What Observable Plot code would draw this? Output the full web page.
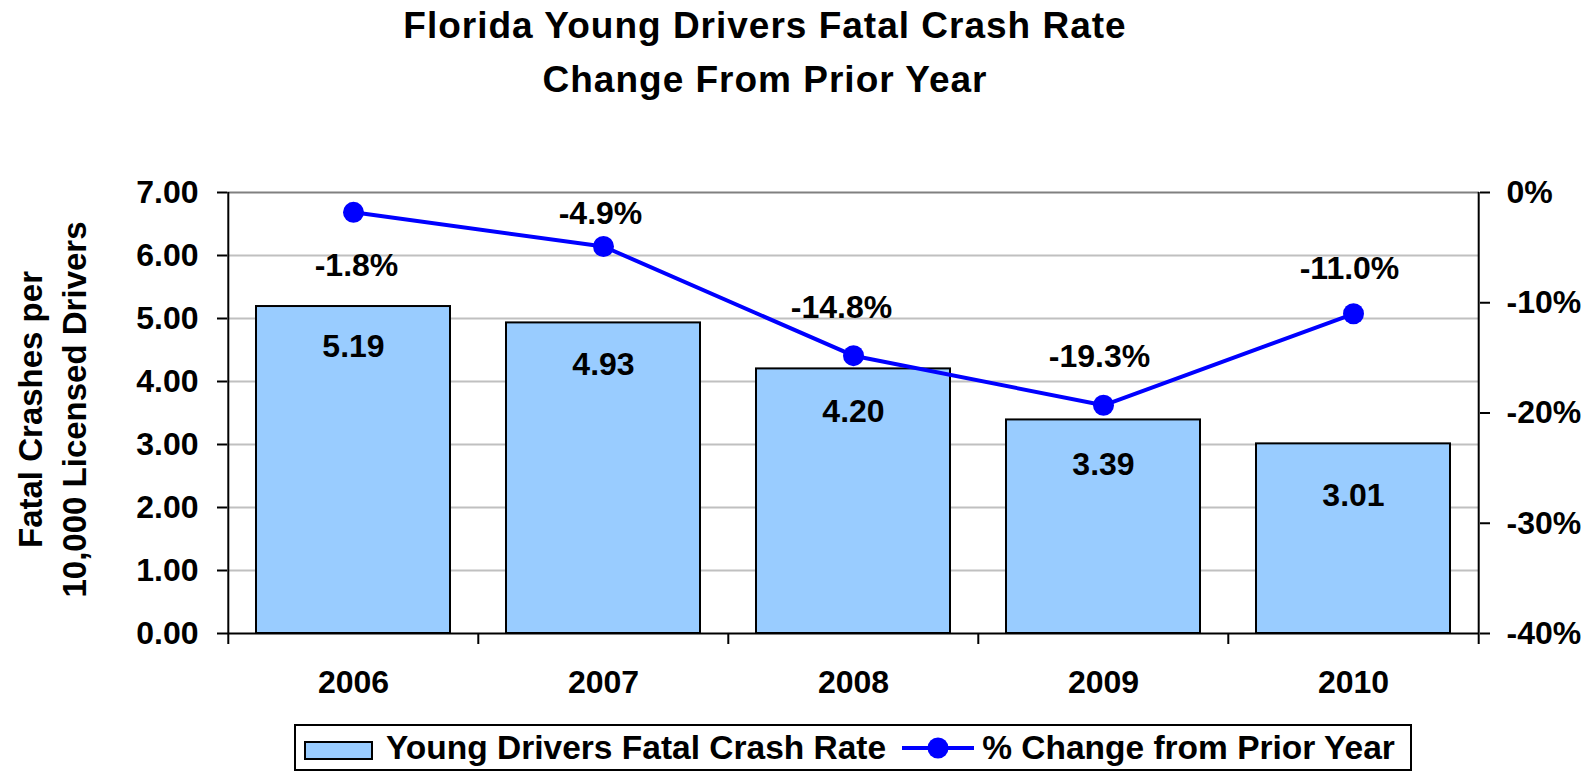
<!DOCTYPE html>
<html>
<head>
<meta charset="utf-8">
<script src="https://cdn.jsdelivr.net/npm/d3@7"></script>
<script src="https://cdn.jsdelivr.net/npm/@observablehq/plot@0.6"></script>
<style>
  html, body { margin: 0; padding: 0; background: #fff; }
  body { width: 1596px; height: 774px; overflow: hidden; font-family: "Liberation Sans", Arial, sans-serif; font-weight: bold; color: #000; }
  #title { width: 1530px; height: 108px; text-align: center; font-size: 37px; letter-spacing: 1px; line-height: 54px; margin-top: -1px; }
  #chart svg { display: block; }
  #legend { margin: 17px 0 0 294px; width: 1118px; height: 47px; box-sizing: border-box; border: 2px solid #000;
            display: flex; align-items: center; font-size: 33.5px; white-space: nowrap; }
  #legend .sw { display: inline-block; width: 69px; height: 19px; box-sizing: border-box; border: 2px solid #000; background: #99ccff; margin-left: 8px; margin-top: 6px; }
</style>
</head>
<body>
<div id="title"></div>
<div id="chart"></div>
<div id="legend"></div>
<script>
// ---- data ----
const titleLines = ["Florida Young Drivers Fatal Crash Rate", "Change From Prior Year"];
const yAxisTitle = ["Fatal Crashes per", "10,000 Licensed Drivers"];
const seriesNames = ["Young Drivers Fatal Crash Rate", "% Change from Prior Year"];
const years = ["2006", "2007", "2008", "2009", "2010"];
const rates = [5.19, 4.93, 4.20, 3.39, 3.01];
const pctChange = [-1.8, -4.9, -14.8, -19.3, -11.0];
const rateTicks = [0, 1, 2, 3, 4, 5, 6, 7];
const pctTicks = [0, -10, -20, -30, -40];

// ---- label placement (style) ----
const barLabelDy = [40, 42, 43, 45, 52];
const pctLabelDy = [53, -33, -48, -49, -45];
const pctLabelDx = [3, -3, -12, -4, -4];

// ---- layout ----
const W = 1596, H = 600, mT = 85, mB = 74, mL = 227, mR = 117;
const frameH = H - mT - mB;
const step = (W - mL - mR) / years.length;
const BLUE = "#0000ff", BAR = "#99ccff";

const data = years.map((year, i) => ({year, rate: rates[i], pct: pctChange[i]}));
const toY = p => 7 + p * 7 / 40;
const fromY = y => Math.round((y - 7) * 40 / 7);

document.getElementById("title").innerHTML = titleLines.join("<br>");

const marks = [
  Plot.ruleY(rateTicks.filter(t => t > 0 && t < 7), {stroke: "#c0c0c0", strokeWidth: 2}),
  Plot.ruleY([7], {stroke: "#808080", strokeWidth: 2}),
  Plot.barY(data, {x: "year", y: "rate", fill: BAR, stroke: "#000", strokeWidth: 2}),
  Plot.ruleY([0], {stroke: "#000", strokeWidth: 2}),
  // left and right axis lines (extending as boundary ticks)
  Plot.ruleX([years[0]], {x: d => d, dx: -step / 2, stroke: "#000", strokeWidth: 2, insetBottom: -11}),
  Plot.ruleX([years[years.length - 1]], {x: d => d, dx: step / 2, stroke: "#000", strokeWidth: 2, insetBottom: -11}),
  // inner category boundary ticks
  Plot.ruleX(years.slice(1), {x: d => d, dx: -step / 2, stroke: "#000", strokeWidth: 2, insetTop: frameH, insetBottom: -11}),
  Plot.line(data, {x: "year", y: d => toY(d.pct), stroke: BLUE, strokeWidth: 4}),
  Plot.dot(data, {x: "year", y: d => toY(d.pct), r: 10.5, fill: BLUE, stroke: "none"}),
  ...data.map((d, i) => Plot.text([d], {x: "year", y: "rate", text: v => v.rate.toFixed(2), dy: barLabelDy[i], fill: "#000"})),
  ...data.map((d, i) => Plot.text([d], {x: "year", y: v => toY(v.pct), text: v => v.pct.toFixed(1) + "%", dy: pctLabelDy[i], dx: pctLabelDx[i], fill: "#000"})),
  Plot.axisY(rateTicks, {anchor: "left", tickSize: 10, tickPadding: 19, tickFormat: d => d.toFixed(2), strokeWidth: 2, label: null}),
  Plot.axisY(pctTicks.map(toY), {anchor: "right", tickSize: 10, tickPadding: 17, tickFormat: v => fromY(v) + "%", strokeWidth: 2, label: null}),
  Plot.axisX({tickSize: 0, tickPadding: 37, label: null}),
  Plot.text([yAxisTitle.join("\n")], {text: d => d, frameAnchor: "left", textAnchor: "middle", lineAnchor: "middle",
    dx: -177.6, dy: -3.5, rotate: -90, lineHeight: 44 / 33, fontSize: 33, fill: "#000"})
];

const chart = Plot.plot({
  width: W, height: H,
  marginTop: mT, marginBottom: mB, marginLeft: mL, marginRight: mR,
  style: {fontFamily: "'Liberation Sans', Arial, sans-serif", fontSize: "32px", fontWeight: "bold", color: "#000", background: "#fff", overflow: "visible"},
  x: {type: "band", domain: years, paddingInner: 0.225, paddingOuter: 0.1125, label: null},
  y: {domain: [0, 7], label: null},
  marks
});
document.getElementById("chart").appendChild(chart);

// legend
const lg = document.getElementById("legend");
lg.innerHTML =
  `<span class="sw"></span><span style="margin-left:13px">${seriesNames[0]}</span>` +
  `<svg width="72" height="24" style="margin-left:16px;display:block"><line x1="0" x2="72" y1="12" y2="12" stroke="${BLUE}" stroke-width="4"/><circle cx="36" cy="12" r="10.5" fill="${BLUE}"/></svg>` +
  `<span style="margin-left:8px">${seriesNames[1]}</span>`;
</script>
</body>
</html>
